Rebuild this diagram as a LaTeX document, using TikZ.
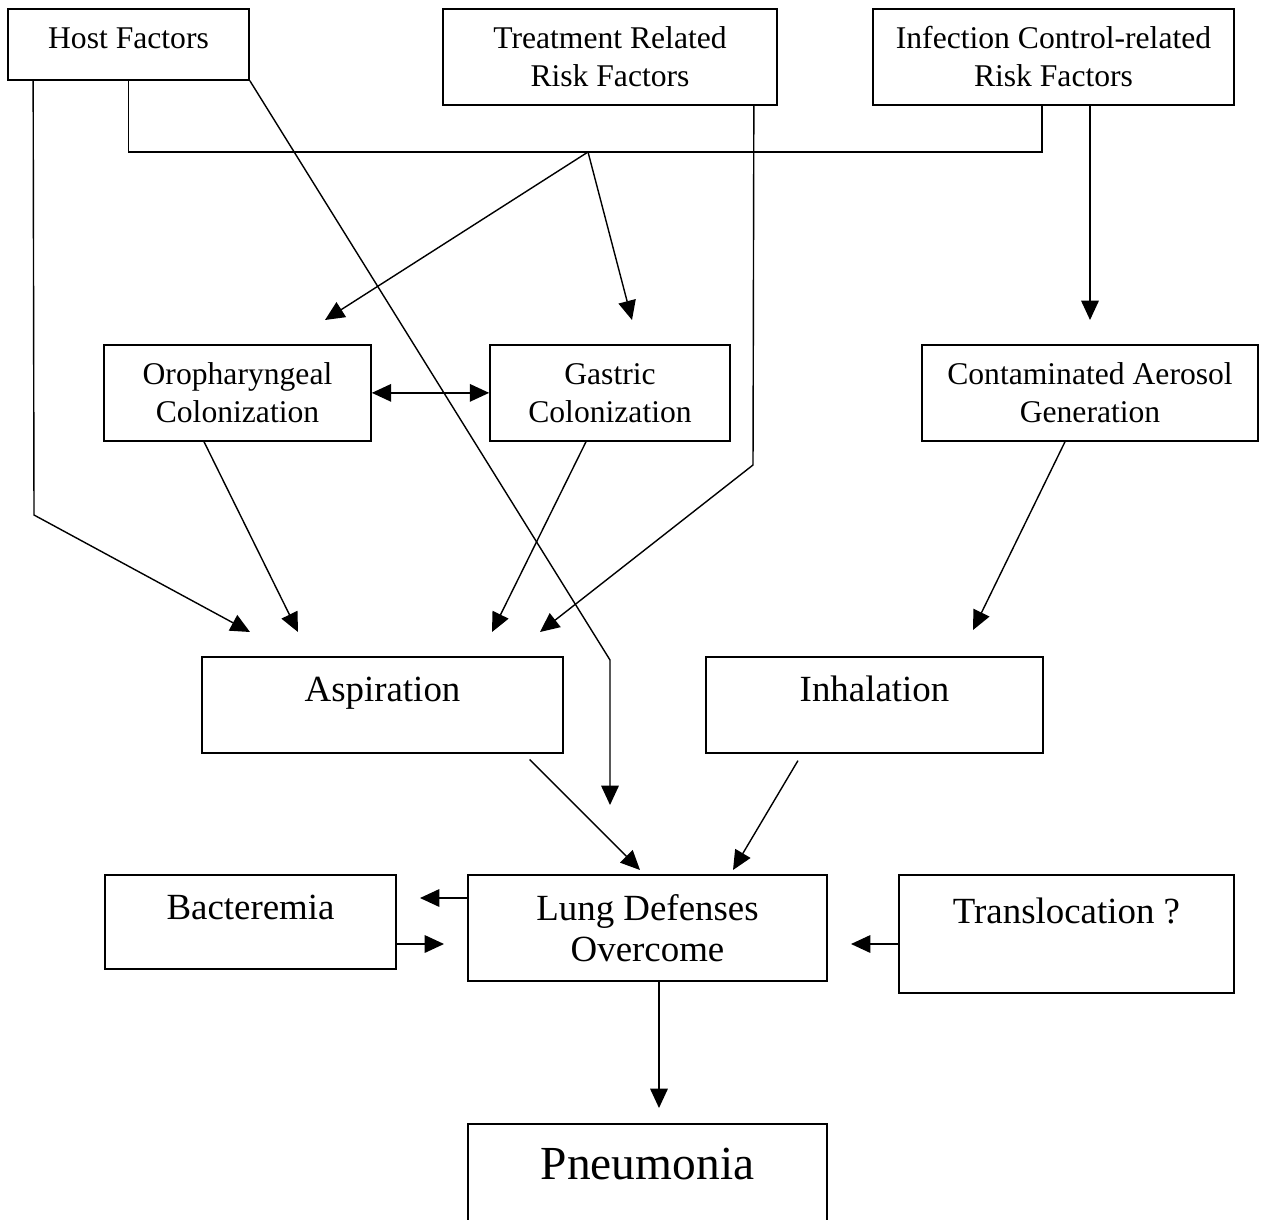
\documentclass[tikz,border=0pt]{standalone}
\usepackage{fontspec}
\setmainfont{Liberation Serif}
\usetikzlibrary{arrows.meta, positioning}
\tikzset{
box/.style={draw, line width=1pt, anchor=north, align=center, inner ysep=0pt}, % plain rectangle, placed by its top edge
small/.style={box, font=\fontsize{18}{21.6}\selectfont}, % the risk factor boxes
medium/.style={box, font=\fontsize{21}{23.5}\selectfont}, % the middle of the chain
large/.style={box, font=\fontsize{27}{32}\selectfont}, % the outcome
}

\begin{document}
\begin{tikzpicture}[x=0.02cm, y=-0.02cm, line width=0.8pt,%
>={Triangle[length=11pt,width=10pt]}]
\useasboundingbox (0,0) rectangle (1266,1219);
\clip (0,0) rectangle (1266,1219);
% risk factors
\node[small, minimum width=4.82cm, text height=0.8cm, text depth=0.62cm] (host) at (128.5,8) {Host Factors};
\node[small, minimum width=6.68cm, minimum height=1.92cm] (treat) at (610,8) {Treatment Related\\Risk Factors};
\node[small, minimum width=7.22cm, minimum height=1.92cm] (infect) at (1053.5,8) {Infection Control-related\\Risk Factors};
% colonization
\node[small, minimum width=5.34cm, minimum height=1.92cm] (oro) at (237.5,344) {Oropharyngeal\\Colonization};
\node[small, minimum width=4.8cm, minimum height=1.92cm] (gastric) at (610,344) {Gastric\\Colonization};
\node[small, minimum width=6.72cm, minimum height=1.92cm] (aero) at (1090,344) {Contaminated Aerosol\\Generation};
% routes
\node[medium, minimum width=7.22cm, text height=0.9cm, text depth=1.02cm] (aspir) at (382.5,656) {Aspiration};
\node[medium, minimum width=6.74cm, text height=0.9cm, text depth=1.02cm] (inhal) at (874.5,656) {Inhalation};
\node[medium, minimum width=7.18cm, minimum height=2.12cm] (lung) at (647.5,874) {Lung Defenses\\Overcome};
\node[medium, minimum width=5.82cm, text height=0.9cm, text depth=0.98cm] (bact) at (250.5,874) {Bacteremia};
\node[medium, minimum width=6.7cm, text height=0.98cm, text depth=1.38cm] (transl) at (1066.5,874) {Translocation ?};
\node[large, minimum width=7.18cm, text height=1.12cm, text depth=1.32cm] (pneu) at (647.5,1123) {Pneumonia};
% free ends of the connectors
\coordinate (bus) at (588,152);
\coordinate (oroin) at (325,320);
\coordinate (gasin) at (632,320);
\coordinate (hostbend) at (34,515);
\coordinate (aspin1) at (250,632);
\coordinate (aspin2) at (298,632);
\coordinate (aspin3) at (492,632);
\coordinate (aspin4) at (540,632);
\coordinate (hostkink) at (610,660);
\coordinate (treatbend) at (753,465);
\coordinate (inhin) at (973,630);
\coordinate (lungin1) at (610,805);
\coordinate (lungin2) at (640,870);
\coordinate (lungin3) at (733,870);
\coordinate (bactin) at (420,898);
\coordinate (lungin4) at (444,944);
\coordinate (lungin5) at (851,944);
% connectors
\draw (host.south) |- (bus) -| ([xshift=-0.23cm]infect.south);
\draw[->] (bus) -- (oroin);
\draw[->] (bus) -- (gasin);
\draw[->] ([xshift=0.52cm]host.south west) -- (hostbend) -- (aspin1);
\draw[->] (host.south east) -- (hostkink) -- (lungin1);
\draw[->] ([xshift=-0.48cm]treat.south east) -- (treatbend) -- (aspin4);
\draw[->, shorten >=0.48cm] (aero.north |- infect.south) -- (aero.north);
\draw[<->] (oro.east) -- (gastric.west);
\draw[->] ([xshift=-0.67cm]oro.south) -- (aspin2);
\draw[->] ([xshift=-0.48cm]gastric.south) -- (aspin3);
\draw[->] ([xshift=-0.5cm]aero.south) -- (inhin);
\draw[->, shorten <=0.16cm] ([xshift=2.83cm]aspir.south) -- (lungin2);
\draw[->, shorten <=0.16cm] ([xshift=-1.45cm]inhal.south) -- (lungin3);
\draw[->] (lung.west |- bactin) -- (bactin);
\draw[->] (bact.east |- lungin4) -- (lungin4);
\draw[->] (transl.west |- lungin5) -- (lungin5);
\draw[->, shorten >=0.3cm] ([xshift=0.23cm]lung.south) -- ([xshift=0.23cm]pneu.north);
\end{tikzpicture}
\end{document}
